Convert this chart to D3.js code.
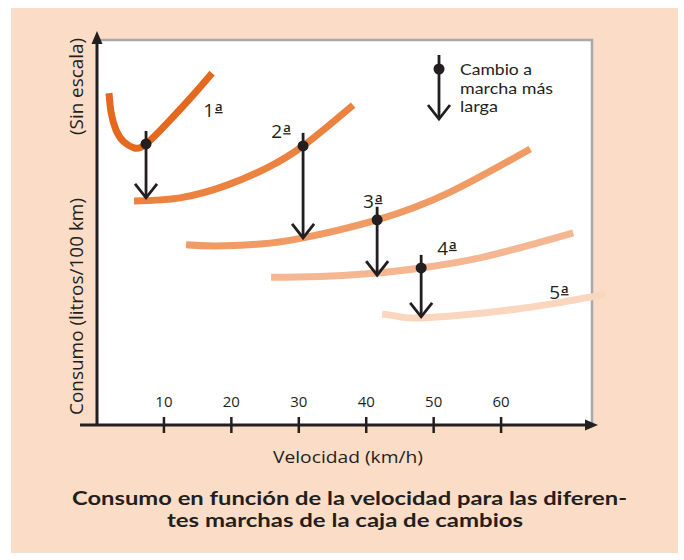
<!DOCTYPE html>
<html>
<head>
<meta charset="utf-8">
<script src="https://cdn.jsdelivr.net/npm/d3@7"></script>
<style>
  body { margin: 0; background: #fff; }
  svg { display: block; }
  text { font-family: "Open Sans", "Lato", sans-serif; fill: #231f20; }
</style>
</head>
<body>
<div id="graph"></div>
<script>
// velocity ticks (km/h)
var ticks = [10, 20, 30, 40, 50, 60];
var gears = ["1ª", "2ª", "3ª", "4ª", "5ª"];

// consumption curves, [km/h, consumption (no scale)]
var gear1 = [[1.93, 86.2], [2.23, 81.3], [2.97, 76.6], [4.15, 73.5], [5.64, 72.0], [7.42, 73.0], [10.98, 79.2], [14.39, 85.7], [17.21, 91.4]];
var gear2 = [[5.64, 58.2], [12.46, 59.0], [19.44, 62.3], [25.37, 66.8], [30.71, 72.5], [38.13, 83.1]];
var gear3 = [[13.35, 46.8], [17.66, 46.5], [24.33, 47.0], [30.71, 48.6], [41.69, 53.3], [52.52, 60.5], [64.39, 71.7]];
var gear4 = [[25.96, 38.4], [33.23, 38.6], [41.69, 39.5], [48.22, 40.8], [57.42, 43.6], [70.77, 49.9]];
var gear5 = [[42.43, 28.8], [45.10, 28.1], [48.07, 27.8], [57.42, 29.1], [67.36, 31.4], [75.52, 34.0]];
var curves = [gear1, gear2, gear3, gear4, gear5];

// gear changes: speed, consumption before, consumption after
var shiftSpeed = [7.42, 30.71, 41.69, 48.22];
var shiftFrom = [73.0, 72.5, 53.3, 40.8];
var shiftTo = [59.0, 48.6, 38.9, 28.1];

// where each gear name sits, [km/h, consumption]
var labelAt = [[15.9, 80.0], [26.0, 74.5], [39.6, 56.4], [50.6, 44.2], [67.2, 32.7]];

var colors = ["#e4681e", "#eb823f", "#f09a64", "#f5b692", "#f9d6bd"];
var ink = "#231f20";

var svg = d3.select("#graph").append("svg").attr("width", 684).attr("height", 560);

var x = d3.scaleLinear().domain([0, 74]).range([96, 595]);
var y = d3.scaleLinear().domain([0, 100]).range([425, 40]);

// peach card and white plot panel
svg.append("rect").attr("x", 11).attr("y", 8).attr("width", 667).attr("height", 545).style("fill", "#fbdcc6");
svg.append("rect").attr("x", 97).attr("y", 40).attr("width", 495).attr("height", 385).style("fill", "#fff");
svg.append("path").attr("d", "M97,40H592V425").style("fill", "none").style("stroke", "#a7a9ac").style("stroke-width", 2.5);

// curves
var line = d3.line()
    .x(function(d) { return x(d[0]); })
    .y(function(d) { return y(d[1]); })
    .curve(d3.curveNatural);

svg.selectAll("path.gear")
    .data(curves)
    .enter()
    .append("path")
        .attr("class", "gear")
        .attr("d", line)
        .style("fill", "none")
        .style("stroke", function(d, i) { return colors[i]; })
        .style("stroke-width", 7);

// gear names, number plus underlined superscript a
var names = svg.selectAll("text.gearname")
    .data(gears)
    .enter()
    .append("text")
        .attr("class", "gearname")
        .attr("x", function(d, i) { return x(labelAt[i][0]); })
        .attr("y", function(d, i) { return y(labelAt[i][1]); })
        .style("font-size", "19px")
        .style("font-weight", 500)
        .text(function(d) { return d.slice(0, -1); });
names.append("tspan")
    .attr("dx", 1)
    .attr("dy", -6)
    .style("font-size", "13px")
    .style("font-weight", 600)
    .style("text-decoration", "underline")
    .text("a");

// x axis
var xAxis = d3.axisTop(x).tickValues(ticks).tickSize(8).tickPadding(10).tickFormat(d3.format("d"));
var gx = svg.append("g").attr("transform", "translate(0,425)").call(xAxis);
gx.select(".domain").remove();
gx.selectAll(".tick line").attr("y1", 8).attr("y2", -8).style("stroke", ink).style("stroke-width", 2.5);
gx.selectAll(".tick text").style("font-size", "15px").style("font-family", "'Open Sans', sans-serif").style("fill", ink);

svg.append("line").attr("x1", 80).attr("x2", 588).attr("y1", 425).attr("y2", 425)
    .style("stroke", ink).style("stroke-width", 3);
svg.append("path").attr("d", "M598,425L585,419.5L585,430.5Z").style("fill", ink);

// y axis
svg.append("line").attr("x1", 97).attr("x2", 97).attr("y1", 426).attr("y2", 40)
    .style("stroke", ink).style("stroke-width", 3);
svg.append("path").attr("d", "M97,31L91.5,44L102.5,44Z").style("fill", ink);

// gear change arrows
function arrow(g, cx, top, tip) {
    g.append("line").attr("x1", cx).attr("x2", cx).attr("y1", top).attr("y2", tip)
        .style("stroke", ink).style("stroke-width", 2.8);
    g.append("path").attr("d", "M" + (cx - 11) + "," + (tip - 14) + "L" + cx + "," + tip + "L" + (cx + 11) + "," + (tip - 14))
        .style("fill", "none").style("stroke", ink).style("stroke-width", 2.8);
}
shiftSpeed.forEach(function(v, i) {
    var g = svg.append("g");
    arrow(g, x(v), y(shiftFrom[i]) - 13, y(shiftTo[i]));
    g.append("circle").attr("cx", x(v)).attr("cy", y(shiftFrom[i])).attr("r", 5.5).style("fill", ink);
});

// legend
var lg = svg.append("g");
arrow(lg, 439, 55, 119);
lg.append("circle").attr("cx", 439).attr("cy", 69).attr("r", 5.5).style("fill", ink);
var legendLines = ["Cambio a", "marcha más", "larga"];
var legendLen = [72, 93, 38];
lg.selectAll("text")
    .data(legendLines)
    .enter()
    .append("text")
        .attr("x", 460)
        .attr("y", function(d, i) { return 75 + i * 18.5; })
        .attr("textLength", function(d, i) { return legendLen[i]; })
        .attr("lengthAdjust", "spacingAndGlyphs")
        .style("font-family", "Lato, sans-serif")
        .style("font-size", "15px")
        .text(function(d) { return d; });

// axis titles
svg.append("text")
    .attr("transform", "translate(83,415) rotate(-90)")
    .attr("textLength", 217).attr("lengthAdjust", "spacingAndGlyphs")
    .style("font-size", "18px").style("font-weight", 500)
    .text("Consumo (litros/100 km)");
svg.append("text")
    .attr("transform", "translate(83,135) rotate(-90)")
    .attr("textLength", 97).attr("lengthAdjust", "spacingAndGlyphs")
    .style("font-size", "18px").style("font-weight", 500)
    .text("(Sin escala)");
svg.append("text")
    .attr("x", 273).attr("y", 463)
    .attr("textLength", 150).attr("lengthAdjust", "spacingAndGlyphs")
    .style("font-size", "17px").style("font-weight", 500)
    .text("Velocidad (km/h)");

// caption
var caption = ["Consumo en función de la velocidad para las diferen-", "tes marchas de la caja de cambios"];
var capLen = [555, 356];
var capX = [72, 167];
svg.selectAll("text.caption")
    .data(caption)
    .enter()
    .append("text")
        .attr("class", "caption")
        .attr("x", function(d, i) { return capX[i]; })
        .attr("y", function(d, i) { return 505 + i * 22; })
        .attr("textLength", function(d, i) { return capLen[i]; })
        .attr("lengthAdjust", "spacingAndGlyphs")
        .style("font-family", "Lato, sans-serif")
        .style("font-size", "18px")
        .style("font-weight", 700)
        .text(function(d) { return d; });
</script>
</body>
</html>
